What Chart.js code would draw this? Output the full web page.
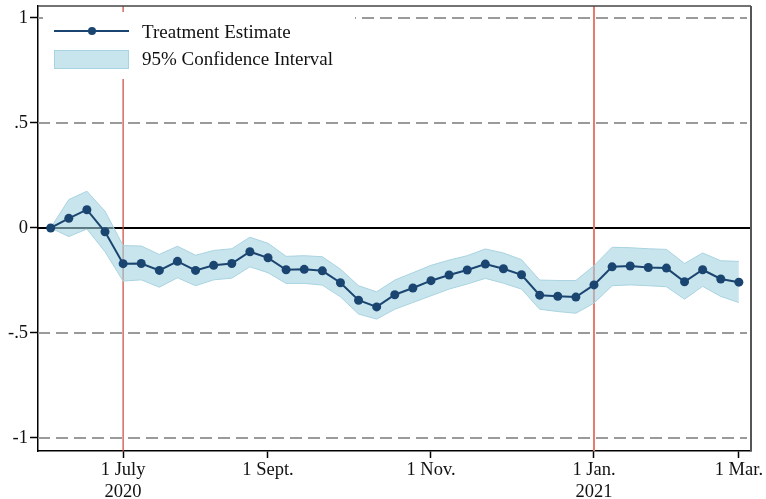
<!DOCTYPE html>
<html lang="en">
<head>
    <meta charset="UTF-8">
    <title>Treatment Estimate</title>
    <script src="https://cdn.jsdelivr.net/npm/chart.js"></script>
    <style>
        body { margin: 0; background: #fff; }
        #wrap { width: 766px; height: 499px; }
    </style>
</head>
<body>
    <div id="wrap"><canvas id="estChart"></canvas></div>

    <script>
        // weeks since the start of the sample
        const week = [0, 1, 2, 3, 4, 5, 6, 7, 8, 9, 10, 11, 12, 13, 14, 15, 16, 17, 18, 19,
                      20, 21, 22, 23, 24, 25, 26, 27, 28, 29, 30, 31, 32, 33, 34, 35, 36, 37, 38];
        const estimate = [0, 0.046, 0.087, -0.018, -0.17, -0.169, -0.202, -0.159, -0.202, -0.178,
                          -0.169, -0.113, -0.142, -0.199, -0.197, -0.204, -0.261, -0.344, -0.376, -0.318,
                          -0.286, -0.251, -0.224, -0.2, -0.172, -0.194, -0.223, -0.32, -0.325, -0.329,
                          -0.271, -0.185, -0.181, -0.188, -0.191, -0.256, -0.199, -0.243, -0.258];
        const ciUpper = [0, 0.135, 0.175, 0.08, -0.084, -0.086, -0.126, -0.087, -0.13, -0.107,
                         -0.099, -0.044, -0.073, -0.135, -0.132, -0.137, -0.196, -0.275, -0.304, -0.248,
                         -0.213, -0.178, -0.153, -0.132, -0.1, -0.119, -0.151, -0.248, -0.25, -0.25,
                         -0.18, -0.092, -0.094, -0.099, -0.102, -0.169, -0.119, -0.156, -0.159];
        const ciLower = [0, -0.041, -0.005, -0.113, -0.253, -0.247, -0.282, -0.237, -0.275, -0.247,
                         -0.239, -0.185, -0.213, -0.264, -0.264, -0.272, -0.328, -0.41, -0.434, -0.387,
                         -0.355, -0.323, -0.291, -0.267, -0.24, -0.263, -0.291, -0.387, -0.398, -0.406,
                         -0.358, -0.275, -0.271, -0.275, -0.28, -0.339, -0.278, -0.326, -0.355];

        const xTickPos = [4, 12, 21, 30, 38];
        const xTickLabels = [['1 July', '2020'], '1 Sept.', '1 Nov.', ['1 Jan.', '2021'], '1 Mar.'];
        const yTickPos = [-1, -0.5, 0, 0.5, 1];
        const yTickLabels = ['-1', '-.5', '0', '.5', '1'];
        const dashedLevels = [-1, -0.5, 0.5, 1];
        const eventWeeks = [4, 30];

        const FONT = "'Liberation Serif', 'DejaVu Serif', serif";
        const NAVY = '#1b4571';
        const BAND = 'rgba(160, 208, 222, 0.58)';
        const BAND_EDGE = '#a8d3e1';

        const pts = vals => week.map((w, i) => ({ x: w, y: vals[i] }));

        const overlay = {
            id: 'overlay',
            beforeDatasetsDraw(chart) {
                const { ctx, chartArea: a, scales: { x, y } } = chart;
                ctx.save();
                // dashed reference levels
                ctx.strokeStyle = '#9a9a9a';
                ctx.lineWidth = 2;
                ctx.setLineDash([12, 6]);
                dashedLevels.forEach(v => {
                    const py = Math.round(y.getPixelForValue(v));
                    ctx.beginPath();
                    ctx.moveTo(a.left, py);
                    ctx.lineTo(a.right - 4, py);
                    ctx.stroke();
                });
                ctx.setLineDash([]);
                // zero line
                const y0 = y.getPixelForValue(0);
                ctx.strokeStyle = '#000';
                ctx.lineWidth = 2;
                ctx.beginPath();
                ctx.moveTo(a.left, y0);
                ctx.lineTo(a.right, y0);
                ctx.stroke();
                // event markers
                const evStyle = [{ c: '#c9473b', w: 1.2 }, { c: '#e47c6e', w: 2 }];
                eventWeeks.forEach((wk, i) => {
                    const px = x.getPixelForValue(wk);
                    ctx.strokeStyle = evStyle[i].c;
                    ctx.lineWidth = evStyle[i].w;
                    ctx.beginPath();
                    ctx.moveTo(px, a.top);
                    ctx.lineTo(px, a.bottom);
                    ctx.stroke();
                });
                // legend
                ctx.fillStyle = '#fff';
                ctx.fillRect(43, 12, 312, 67);
                ctx.strokeStyle = NAVY;
                ctx.lineWidth = 2;
                ctx.beginPath();
                ctx.moveTo(54, 31);
                ctx.lineTo(129, 31);
                ctx.stroke();
                ctx.fillStyle = NAVY;
                ctx.beginPath();
                ctx.arc(92, 31, 4, 0, Math.PI * 2);
                ctx.fill();
                ctx.fillStyle = '#c8e4ed';
                ctx.fillRect(54, 50, 75, 19);
                ctx.strokeStyle = BAND_EDGE;
                ctx.lineWidth = 1;
                ctx.strokeRect(54.5, 50.5, 74, 18);
                ctx.fillStyle = '#111';
                ctx.font = '19px ' + FONT;
                ctx.textBaseline = 'middle';
                ctx.fillText('Treatment Estimate', 142, 33);
                ctx.fillText('95% Confidence Interval', 142, 60);
                ctx.restore();
            },
            afterDraw(chart) {
                const { ctx, chartArea: a } = chart;
                ctx.save();
                ctx.strokeStyle = '#444';
                ctx.lineWidth = 1.5;
                ctx.beginPath();
                ctx.moveTo(a.left, a.top);
                ctx.lineTo(a.right, a.top);
                ctx.stroke();
                ctx.strokeStyle = '#555';
                ctx.lineWidth = 2;
                ctx.beginPath();
                ctx.moveTo(a.right, a.top);
                ctx.lineTo(a.right, a.bottom);
                ctx.stroke();
                ctx.restore();
            }
        };

        new Chart(document.getElementById('estChart'), {
            type: 'line',
            data: {
                datasets: [
                    {
                        label: 'Treatment Estimate',
                        data: pts(estimate),
                        borderColor: NAVY,
                        backgroundColor: NAVY,
                        borderWidth: 2,
                        pointRadius: 4.5,
                        pointBorderWidth: 0,
                        fill: false,
                        tension: 0,
                        clip: false
                    },
                    {
                        label: 'upper',
                        data: pts(ciUpper),
                        borderColor: BAND_EDGE,
                        borderWidth: 1,
                        pointRadius: 0,
                        fill: false,
                        tension: 0
                    },
                    {
                        label: '95% Confidence Interval',
                        data: pts(ciLower),
                        borderColor: BAND_EDGE,
                        borderWidth: 1,
                        backgroundColor: BAND,
                        pointRadius: 0,
                        fill: '-1',
                        tension: 0
                    }
                ]
            },
            options: {
                responsive: true,
                maintainAspectRatio: false,
                animation: false,
                layout: { padding: { top: 6, right: 15, left: 0, bottom: 0 } },
                plugins: { legend: { display: false }, tooltip: { enabled: false } },
                scales: {
                    x: {
                        type: 'linear',
                        min: -0.7,
                        max: 38.67,
                        afterFit: s => { s.height = 48; s.paddingLeft = 0; s.paddingRight = 0; },
                        afterBuildTicks: s => { s.ticks = xTickPos.map(v => ({ value: v })); },
                        grid: { drawOnChartArea: false, drawTicks: true, tickLength: 7, tickColor: '#000', tickWidth: 1.5 },
                        border: { color: '#000', width: 1.5 },
                        ticks: {
                            autoSkip: false,
                            maxRotation: 0,
                            padding: 1,
                            color: '#111',
                            font: { family: FONT, size: 18.5, lineHeight: 1.2 },
                            callback: v => xTickLabels[xTickPos.indexOf(v)]
                        }
                    },
                    y: {
                        min: -1.062,
                        max: 1.057,
                        afterFit: s => { s.width = 38; s.paddingTop = 0; s.paddingBottom = 0; },
                        afterBuildTicks: s => { s.ticks = yTickPos.map(v => ({ value: v })); },
                        grid: { drawOnChartArea: false, drawTicks: true, tickLength: 8, tickColor: '#000', tickWidth: 1.5 },
                        border: { color: '#000', width: 1.5 },
                        ticks: {
                            padding: 2,
                            color: '#111',
                            font: { family: FONT, size: 18.5 },
                            callback: v => yTickLabels[yTickPos.indexOf(v)]
                        }
                    }
                }
            },
            plugins: [overlay]
        });
    </script>
</body>
</html>
